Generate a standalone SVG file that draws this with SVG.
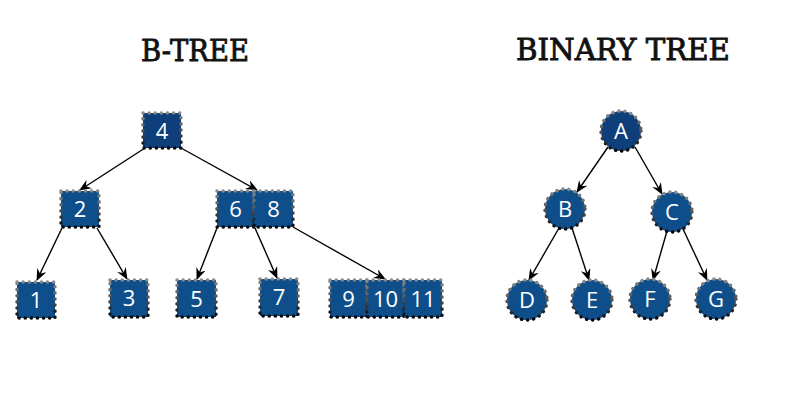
<svg xmlns="http://www.w3.org/2000/svg" width="800" height="400" viewBox="0 0 800 400">
<defs>
<linearGradient id="bd" x1="0" y1="0" x2="0" y2="1">
<stop offset="0" stop-color="#8a8a8a"/>
<stop offset="0.5" stop-color="#555"/>
<stop offset="1" stop-color="#050505"/>
</linearGradient>
<marker id="ah" viewBox="0 0 12 10" refX="11" refY="5" markerWidth="12" markerHeight="10" markerUnits="userSpaceOnUse" orient="auto">
<path d="M0,0 L12,5 L0,10 L4,5 Z" fill="#000"/>
</marker>
</defs>
<style>
.title{font-family:"DejaVu Serif","Liberation Serif",serif;font-size:30px;fill:#111;stroke:#111;stroke-width:0.9;text-anchor:middle}
.n{fill:#0e4f8b;stroke:url(#bd);stroke-width:3.5;stroke-dasharray:0.1 6;stroke-linecap:round}
.d{fill:#0f3f7b}
.t{font-family:"Open Sans","Liberation Sans",sans-serif;font-size:22px;fill:#fff;text-anchor:middle}
.e{stroke:#000;stroke-width:1.4;fill:none;marker-end:url(#ah)}
</style>
<rect width="800" height="400" fill="#fff"/>
<text class="title" x="195" y="61" textLength="108" lengthAdjust="spacingAndGlyphs">B-TREE</text>
<text class="title" x="623" y="60" textLength="214" lengthAdjust="spacingAndGlyphs">BINARY TREE</text>
<g id="connectors">
<line class="e" x1="145" y1="148" x2="80" y2="190"/>
<line class="e" x1="181" y1="148" x2="257" y2="190"/>
<line class="e" x1="62" y1="228" x2="37" y2="280"/>
<line class="e" x1="97" y1="228" x2="127" y2="279"/>
<line class="e" x1="217" y1="228" x2="197" y2="279"/>
<line class="e" x1="255" y1="228" x2="277" y2="278"/>
<line class="e" x1="293" y1="227" x2="385" y2="279"/>
<line class="e" x1="608" y1="147" x2="577" y2="192"/>
<line class="e" x1="635" y1="147" x2="662" y2="194"/>
<line class="e" x1="559" y1="228" x2="529" y2="280"/>
<line class="e" x1="572" y1="228" x2="589" y2="280"/>
<line class="e" x1="667" y1="231" x2="653" y2="280"/>
<line class="e" x1="683" y1="229" x2="707" y2="280"/>
</g>
<g id="n4"><rect class="n d" x="143" y="113" width="38" height="35"/><text class="t" x="162" y="139">4</text></g>
<g id="n2"><rect class="n" x="61" y="191" width="38" height="36"/><text class="t" x="80" y="217">2</text></g>
<g id="n6-8"><rect class="n" x="217" y="191" width="37" height="36"/><text class="t" x="235.5" y="217">6</text><rect class="n" x="254" y="191" width="39" height="36"/><text class="t" x="273.5" y="217">8</text></g>
<g id="n1"><rect class="n" x="17" y="282" width="38" height="36"/><text class="t" x="36" y="308">1</text></g>
<g id="n3"><rect class="n" x="110" y="280" width="38" height="37"/><text class="t" x="129" y="306">3</text></g>
<g id="n5"><rect class="n" x="177" y="280" width="39" height="37"/><text class="t" x="196.5" y="307">5</text></g>
<g id="n7"><rect class="n" x="260" y="279" width="38" height="37"/><text class="t" x="279" y="305">7</text></g>
<g id="n9-11"><rect class="n" x="330" y="280" width="37" height="37"/><text class="t" x="348.5" y="307">9</text><rect class="n" x="367" y="280" width="37" height="37"/><text class="t" x="385.5" y="307">10</text><rect class="n" x="404" y="280" width="38" height="37"/><text class="t" x="423" y="307">11</text></g>
<g id="nA"><circle class="n d" cx="621" cy="131" r="20"/><text class="t" x="621" y="139">A</text></g>
<g id="nB"><circle class="n" cx="565" cy="209" r="20"/><text class="t" x="565" y="217">B</text></g>
<g id="nC"><circle class="n" cx="672" cy="212" r="20"/><text class="t" x="672" y="220">C</text></g>
<g id="nD"><circle class="n" cx="527" cy="300" r="20"/><text class="t" x="527" y="308">D</text></g>
<g id="nE"><circle class="n" cx="592" cy="300" r="20"/><text class="t" x="592" y="308">E</text></g>
<g id="nF"><circle class="n" cx="650" cy="299" r="20"/><text class="t" x="650" y="307">F</text></g>
<g id="nG"><circle class="n" cx="716" cy="299" r="20"/><text class="t" x="716" y="307">G</text></g>
</svg>
